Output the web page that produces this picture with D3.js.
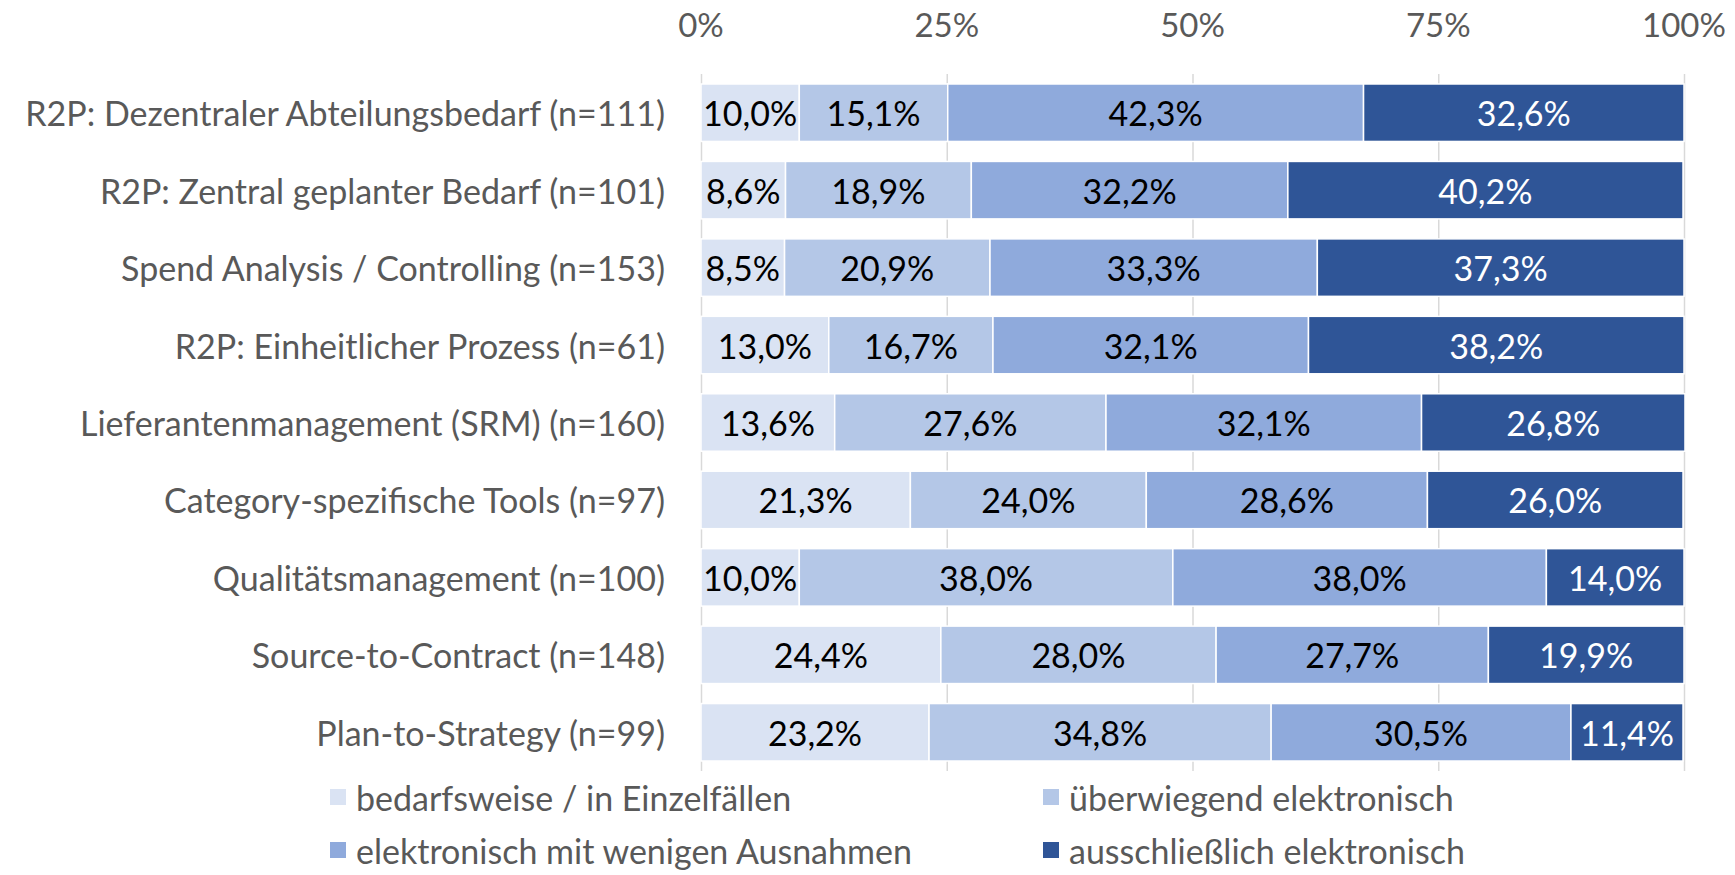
<!DOCTYPE html>
<html>
<head>
<meta charset="utf-8">
<script src="https://cdn.jsdelivr.net/npm/d3@7"></script>
<style>
	body { margin: 0; background: #fff; }
	svg text { font-family: Lato, "Open Sans", sans-serif; }
</style>
</head>
<body>
<div id="app"></div>
<script>
// categories, top to bottom
const categories = [
	'R2P: Dezentraler Abteilungsbedarf (n=111)',
	'R2P: Zentral geplanter Bedarf (n=101)',
	'Spend Analysis / Controlling (n=153)',
	'R2P: Einheitlicher Prozess (n=61)',
	'Lieferantenmanagement (SRM) (n=160)',
	'Category-spezifische Tools (n=97)',
	'Qualitätsmanagement (n=100)',
	'Source-to-Contract (n=148)',
	'Plan-to-Strategy (n=99)'
];

const seriesNames = [
	'bedarfsweise / in Einzelfällen',
	'überwiegend elektronisch',
	'elektronisch mit wenigen Ausnahmen',
	'ausschließlich elektronisch'
];

// values in percent, one array per series, same order as categories
const bedarfsweise = [10.0, 8.6, 8.5, 13.0, 13.6, 21.3, 10.0, 24.4, 23.2];
const ueberwiegend = [15.1, 18.9, 20.9, 16.7, 27.6, 24.0, 38.0, 28.0, 34.8];
const wenigeAusnahmen = [42.3, 32.2, 33.3, 32.1, 32.1, 28.6, 38.0, 27.7, 30.5];
const ausschliesslich = [32.6, 40.2, 37.3, 38.2, 26.8, 26.0, 14.0, 19.9, 11.4];

const tickValues = [0, 25, 50, 75, 100];

const colors = ['#dae3f3', '#b4c7e7', '#8faadc', '#2f5597'];
const labelColors = ['#000', '#000', '#000', '#fff'];

const width = 1735,
	height = 875,
	margin = { top: 74, right: 51, bottom: 104, left: 701 };

const innerW = width - margin.left - margin.right,
	innerH = height - margin.top - margin.bottom;

const FONT = 34;

const seriesValues = [bedarfsweise, ueberwiegend, wenigeAusnahmen, ausschliesslich];
const rows = categories.map((c, i) => {
	const r = { cat: c };
	seriesNames.forEach((s, j) => { r[s] = seriesValues[j][i]; });
	return r;
});

const stack = d3.stack().keys(seriesNames)(rows);

const x = d3.scaleLinear().domain([0, 100]).range([0, innerW]);
const y = d3.scaleBand().domain(categories).range([0, innerH]).paddingInner(0.258).paddingOuter(0.129);

const svg = d3.select('#app').append('svg')
	.attr('width', width)
	.attr('height', height);

const g = svg.append('g')
	.attr('transform', `translate(${margin.left}, ${margin.top})`);

// gridlines
g.append('g')
	.selectAll('line')
	.data(tickValues)
	.enter().append('line')
		.attr('x1', d => x(d) + 0.5)
		.attr('x2', d => x(d) + 0.5)
		.attr('y1', 0)
		.attr('y2', innerH)
		.attr('stroke', '#d9d9d9')
		.attr('stroke-width', 1.5);

// top axis labels
g.append('g')
	.selectAll('text')
	.data(tickValues)
	.enter().append('text')
		.attr('x', d => x(d))
		.attr('y', -50)
		.attr('text-anchor', 'middle')
		.attr('dominant-baseline', 'central')
		.attr('fill', '#595959')
		.attr('font-size', 33)
		.text(d => d + '%');

// bars
const layers = g.selectAll('g.layer')
	.data(stack)
	.enter().append('g')
		.attr('class', 'layer')
		.attr('fill', (d, i) => colors[i]);

layers.selectAll('rect')
	.data(d => d)
	.enter().append('rect')
		.attr('x', d => x(d[0]))
		.attr('y', d => y(d.data.cat))
		.attr('width', d => x(d[1]) - x(d[0]))
		.attr('height', y.bandwidth())
		.attr('stroke', '#fff')
		.attr('stroke-width', 1.5);

// data labels
const fmt = v => v.toFixed(1).replace('.', ',') + '%';
layers.selectAll('text')
	.data((d, i) => d.map(p => ({ p, i })))
	.enter().append('text')
		.attr('x', d => x((d.p[0] + d.p[1]) / 2))
		.attr('y', d => y(d.p.data.cat) + y.bandwidth() / 2)
		.attr('text-anchor', 'middle')
		.attr('dominant-baseline', 'central')
		.attr('fill', d => labelColors[d.i])
		.attr('font-size', FONT)
		.text(d => fmt(d.p[1] - d.p[0]));

// category labels
g.append('g')
	.selectAll('text')
	.data(categories)
	.enter().append('text')
		.attr('x', -36)
		.attr('y', d => y(d) + y.bandwidth() / 2)
		.attr('text-anchor', 'end')
		.attr('dominant-baseline', 'central')
		.attr('fill', '#595959')
		.attr('font-size', FONT)
		.text(d => d);

// legend
const legendPos = [
	{ x: 330, y: 797 },
	{ x: 1043, y: 797 },
	{ x: 330, y: 850 },
	{ x: 1043, y: 850 }
];
const legend = svg.append('g')
	.selectAll('g')
	.data(seriesNames)
	.enter().append('g')
		.attr('transform', (d, i) => `translate(${legendPos[i].x}, ${legendPos[i].y})`);

legend.append('rect')
	.attr('x', 0)
	.attr('y', -8)
	.attr('width', 16)
	.attr('height', 16)
	.attr('fill', (d, i) => colors[i]);

legend.append('text')
	.attr('x', 26)
	.attr('y', 0)
	.attr('dominant-baseline', 'central')
	.attr('fill', '#595959')
	.attr('font-size', FONT)
	.text(d => d);
</script>
</body>
</html>
